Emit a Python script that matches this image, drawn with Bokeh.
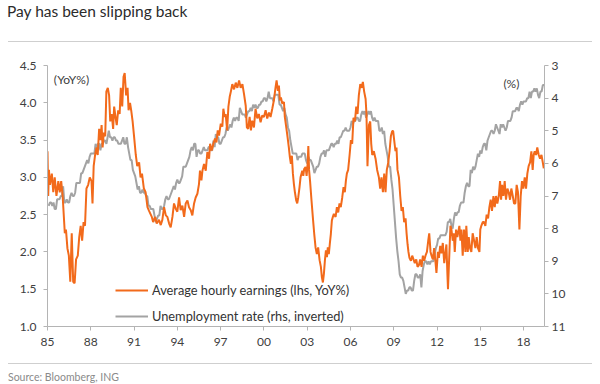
from bokeh.plotting import figure
from bokeh.models import (Range1d, LinearAxis, FixedTicker, Label, Legend,
                          LegendItem, Div)
from bokeh.layouts import column
from bokeh.embed import file_html
from bokeh.resources import INLINE

FONT = "Lato"
ORANGE = "#F26A1B"
GRAY = "#A3A3A3"
TEXT = "#404040"
AXIS = "#B4B4B4"

TITLE = "Pay has been slipping back"
SOURCE = "Source: Bloomberg, ING"
AHE_LABEL = "Average hourly earnings (lhs, YoY%)"
UR_LABEL = "Unemployment rate (rhs, inverted)"

# Average hourly earnings, YoY% (year, value)
ahe_1980s = [
    (1985.00, 3.35), (1985.05, 2.75), (1985.10, 3.10), (1985.17, 2.90), (1985.30, 3.05),
    (1985.40, 2.80), (1985.50, 3.00), (1985.62, 2.75), (1985.75, 2.95), (1985.85, 2.80),
    (1985.95, 2.95), (1986.05, 2.75), (1986.20, 2.25), (1986.28, 2.30), (1986.38, 2.05),
    (1986.48, 1.95), (1986.58, 1.60), (1986.68, 2.25), (1986.78, 1.60), (1986.88, 1.58),
    (1986.98, 1.90), (1987.10, 1.95), (1987.20, 2.20), (1987.30, 2.35), (1987.40, 2.15),
    (1987.50, 2.40), (1987.60, 2.35), (1987.70, 2.85), (1987.82, 2.90), (1987.93, 3.00),
    (1988.05, 2.95), (1988.12, 2.65), (1988.20, 3.15), (1988.30, 3.30), (1988.40, 3.40),
    (1988.48, 3.30), (1988.58, 3.65), (1988.67, 3.50), (1988.75, 3.70), (1988.82, 3.40),
    (1988.90, 3.60), (1989.00, 3.55), (1989.08, 4.15), (1989.18, 4.20), (1989.27, 4.10),
    (1989.35, 3.75), (1989.45, 3.85), (1989.55, 3.65), (1989.62, 3.95), (1989.72, 3.80),
    (1989.80, 3.70), (1989.90, 3.90),
]
ahe_1990s = [
    (1990.00, 3.85), (1990.08, 4.20), (1990.18, 3.95), (1990.27, 4.35), (1990.35, 4.40),
    (1990.45, 4.10), (1990.55, 4.20), (1990.62, 3.90), (1990.72, 4.00), (1990.80, 3.90),
    (1990.90, 3.75), (1991.00, 3.55), (1991.12, 3.30), (1991.22, 3.15), (1991.35, 3.20),
    (1991.45, 3.00), (1991.55, 3.05), (1991.68, 2.85), (1991.80, 2.80), (1991.93, 2.60),
    (1992.04, 2.55), (1992.23, 2.47), (1992.32, 2.40), (1992.46, 2.47), (1992.57, 2.38),
    (1992.73, 2.43), (1992.85, 2.36), (1992.96, 2.43), (1993.08, 2.60), (1993.20, 2.49),
    (1993.31, 2.47), (1993.43, 2.38), (1993.54, 2.33), (1993.66, 2.47), (1993.77, 2.65),
    (1993.89, 2.58), (1994.00, 2.54), (1994.12, 2.73), (1994.23, 2.56), (1994.35, 2.62),
    (1994.47, 2.47), (1994.58, 2.65), (1994.70, 2.69), (1994.81, 2.60), (1994.93, 2.56),
    (1995.04, 2.49), (1995.16, 2.65), (1995.27, 2.73), (1995.39, 2.78), (1995.50, 2.91),
    (1995.57, 3.09), (1995.67, 2.96), (1995.74, 3.09), (1995.85, 3.18), (1995.97, 3.09),
    (1996.08, 3.34), (1996.20, 3.25), (1996.27, 3.45), (1996.38, 3.36), (1996.50, 3.45),
    (1996.61, 3.52), (1996.71, 3.47), (1996.80, 3.63), (1996.89, 3.56), (1997.01, 3.72),
    (1997.12, 3.68), (1997.19, 3.92), (1997.28, 3.81), (1997.35, 3.85), (1997.45, 3.63),
    (1997.54, 3.95), (1997.63, 4.08), (1997.72, 4.16), (1997.81, 4.25), (1997.93, 4.18),
    (1998.05, 4.27), (1998.16, 4.20), (1998.28, 4.30), (1998.39, 4.20), (1998.51, 4.25),
    (1998.62, 4.12), (1998.74, 3.96), (1998.82, 3.67), (1998.91, 3.65), (1999.01, 3.81),
    (1999.10, 3.63), (1999.19, 3.76), (1999.31, 3.67), (1999.42, 3.92), (1999.54, 3.79),
    (1999.65, 3.85), (1999.77, 3.74), (1999.88, 3.83),
]
ahe_2000s = [
    (2000.00, 3.81), (2000.12, 3.90), (2000.23, 3.79), (2000.35, 3.87), (2000.46, 3.81),
    (2000.58, 3.92), (2000.69, 4.03), (2000.81, 4.21), (2000.88, 4.30), (2000.97, 4.16),
    (2001.04, 4.23), (2001.11, 4.03), (2001.18, 4.07), (2001.27, 3.99), (2001.39, 4.01),
    (2001.45, 3.81), (2001.55, 3.67), (2001.64, 3.54), (2001.73, 3.40), (2001.80, 3.27),
    (2001.87, 3.18), (2001.94, 3.29), (2002.01, 3.05), (2002.08, 2.91), (2002.15, 2.80),
    (2002.24, 2.69), (2002.31, 2.65), (2002.38, 2.73), (2002.47, 2.87), (2002.54, 3.00),
    (2002.66, 3.09), (2002.73, 3.02), (2002.79, 3.11), (2002.89, 3.14), (2002.96, 3.02),
    (2003.03, 3.18), (2003.08, 3.42), (2003.13, 3.10), (2003.20, 2.95), (2003.30, 2.69),
    (2003.39, 2.47), (2003.49, 2.24), (2003.58, 2.06), (2003.67, 1.97), (2003.76, 2.06),
    (2003.86, 1.89), (2003.95, 1.80), (2004.02, 1.66), (2004.09, 1.59), (2004.16, 1.71),
    (2004.23, 1.89), (2004.30, 2.02), (2004.37, 1.93), (2004.43, 2.06), (2004.50, 1.97),
    (2004.57, 2.11), (2004.64, 2.24), (2004.71, 2.42), (2004.78, 2.47), (2004.85, 2.51),
    (2004.97, 2.47), (2005.06, 2.60), (2005.15, 2.53), (2005.24, 2.65), (2005.33, 2.60),
    (2005.43, 2.73), (2005.52, 2.87), (2005.61, 2.80), (2005.68, 2.95), (2005.75, 3.05),
    (2005.84, 3.10), (2005.94, 3.30), (2006.03, 3.50), (2006.12, 3.45), (2006.21, 3.80),
    (2006.31, 3.75), (2006.40, 3.95), (2006.49, 3.85), (2006.58, 4.10), (2006.68, 4.25),
    (2006.77, 4.20), (2006.86, 4.28), (2006.95, 4.15), (2007.05, 4.05), (2007.11, 3.85),
    (2007.18, 3.15), (2007.28, 3.70), (2007.37, 3.75), (2007.44, 3.45), (2007.51, 3.30),
    (2007.62, 3.35), (2007.74, 3.25), (2007.85, 3.10), (2007.97, 3.00), (2008.06, 2.85),
    (2008.15, 3.00), (2008.25, 2.80), (2008.34, 3.05), (2008.43, 2.80), (2008.52, 3.10),
    (2008.62, 3.20), (2008.71, 3.35), (2008.80, 3.55), (2008.89, 3.62), (2008.96, 3.62),
    (2009.03, 3.50), (2009.12, 3.35), (2009.19, 3.40), (2009.26, 3.10), (2009.36, 3.00),
    (2009.45, 2.75), (2009.54, 2.55), (2009.63, 2.60), (2009.72, 2.40), (2009.82, 2.45),
    (2009.89, 2.25), (2009.96, 2.10),
]
ahe_2010s = [
    (2010.02, 2.00), (2010.09, 1.92), (2010.19, 1.88), (2010.28, 1.95), (2010.37, 1.90),
    (2010.46, 1.85), (2010.56, 1.90), (2010.65, 1.80), (2010.74, 1.82), (2010.83, 1.90),
    (2010.93, 1.80), (2011.02, 1.95), (2011.11, 1.88), (2011.20, 1.95), (2011.30, 2.00),
    (2011.39, 2.15), (2011.46, 2.25), (2011.55, 2.00), (2011.62, 1.95), (2011.71, 1.90),
    (2011.80, 2.05), (2011.90, 1.85), (2011.96, 1.72), (2012.06, 2.00), (2012.13, 1.92),
    (2012.22, 2.08), (2012.31, 1.98), (2012.40, 2.12), (2012.50, 1.85), (2012.58, 1.98),
    (2012.65, 2.10), (2012.72, 1.70), (2012.76, 1.50), (2012.86, 2.00), (2012.93, 2.35),
    (2013.00, 2.30), (2013.09, 2.15), (2013.16, 2.25), (2013.23, 2.00), (2013.32, 2.30),
    (2013.41, 2.20), (2013.55, 2.35), (2013.62, 2.15), (2013.69, 2.30), (2013.78, 1.95),
    (2013.87, 2.30), (2013.97, 2.00), (2014.03, 2.35), (2014.13, 2.00), (2014.20, 2.20),
    (2014.29, 2.05), (2014.38, 2.00), (2014.47, 2.25), (2014.57, 2.15), (2014.66, 2.05),
    (2014.75, 2.20), (2014.84, 2.05), (2014.94, 2.00), (2015.00, 2.30), (2015.07, 2.35),
    (2015.17, 2.40), (2015.26, 2.40), (2015.35, 2.35), (2015.44, 2.50), (2015.54, 2.45),
    (2015.63, 2.60), (2015.72, 2.70), (2015.81, 2.55), (2015.91, 2.75), (2016.00, 2.60),
    (2016.09, 2.75), (2016.18, 2.65), (2016.28, 2.75), (2016.37, 2.95), (2016.44, 2.70),
    (2016.51, 2.90), (2016.60, 2.75), (2016.69, 2.95), (2016.78, 2.70), (2016.88, 2.85),
    (2016.97, 2.80), (2017.06, 2.70), (2017.15, 2.85), (2017.25, 2.75), (2017.34, 2.65),
    (2017.43, 2.65), (2017.52, 2.90), (2017.61, 2.80), (2017.71, 2.30), (2017.80, 2.75),
    (2017.89, 2.95), (2017.98, 2.85), (2018.08, 3.00), (2018.17, 2.85), (2018.26, 3.05),
    (2018.35, 3.15), (2018.45, 3.20), (2018.54, 3.35), (2018.63, 3.10), (2018.70, 3.30),
    (2018.77, 3.35), (2018.86, 3.30), (2018.95, 3.40), (2019.05, 3.30), (2019.14, 3.25),
    (2019.24, 3.30), (2019.33, 3.20), (2019.40, 3.12),
]

# Unemployment rate (%), monthly from January 1985
ur_start_year = 1985
ur_1980s = [
    7.3, 7.2, 7.2, 7.3, 7.2, 7.4, 7.4, 7.1, 7.1, 7.1, 7.0, 7.0,
    6.7, 7.2, 7.2, 7.1, 7.2, 7.2, 7.0, 6.9, 7.0, 7.0, 6.9, 6.6,
    6.6, 6.6, 6.6, 6.3, 6.3, 6.2, 6.1, 6.0, 5.9, 6.0, 5.8, 5.7,
    5.7, 5.7, 5.7, 5.4, 5.6, 5.4, 5.4, 5.6, 5.4, 5.4, 5.3, 5.3,
    5.4, 5.2, 5.0, 5.2, 5.2, 5.3, 5.2, 5.2, 5.3, 5.3, 5.4, 5.4,
]
ur_1990s = [
    5.4, 5.3, 5.2, 5.4, 5.4, 5.2, 5.5, 5.7, 5.9, 5.9, 6.2, 6.3,
    6.4, 6.6, 6.8, 6.7, 6.9, 6.9, 6.8, 6.9, 6.9, 7.0, 7.0, 7.3,
    7.3, 7.4, 7.4, 7.4, 7.6, 7.8, 7.7, 7.6, 7.6, 7.3, 7.4, 7.4,
    7.3, 7.1, 7.0, 7.1, 7.1, 7.0, 6.9, 6.8, 6.7, 6.8, 6.6, 6.5,
    6.6, 6.6, 6.5, 6.4, 6.1, 6.1, 6.1, 6.0, 5.9, 5.8, 5.6, 5.5,
    5.6, 5.4, 5.4, 5.8, 5.6, 5.6, 5.7, 5.7, 5.6, 5.5, 5.6, 5.6,
    5.6, 5.5, 5.5, 5.6, 5.6, 5.3, 5.5, 5.1, 5.2, 5.2, 5.4, 5.4,
    5.3, 5.2, 5.2, 5.1, 4.9, 5.0, 4.9, 4.8, 4.9, 4.7, 4.6, 4.7,
    4.6, 4.6, 4.7, 4.3, 4.4, 4.5, 4.5, 4.5, 4.6, 4.5, 4.4, 4.4,
    4.3, 4.4, 4.2, 4.3, 4.2, 4.3, 4.3, 4.2, 4.2, 4.1, 4.1, 4.0,
]
ur_2000s = [
    4.0, 4.1, 4.0, 3.8, 4.0, 4.0, 4.0, 4.1, 3.9, 3.9, 3.9, 3.9,
    4.2, 4.2, 4.3, 4.4, 4.3, 4.5, 4.6, 4.9, 5.0, 5.3, 5.5, 5.7,
    5.7, 5.7, 5.7, 5.9, 5.8, 5.8, 5.8, 5.7, 5.7, 5.7, 5.9, 6.0,
    5.8, 5.9, 5.9, 6.0, 6.1, 6.3, 6.2, 6.1, 6.1, 6.0, 5.8, 5.7,
    5.7, 5.6, 5.8, 5.6, 5.6, 5.6, 5.5, 5.4, 5.4, 5.5, 5.4, 5.4,
    5.3, 5.4, 5.2, 5.2, 5.1, 5.0, 5.0, 4.9, 5.0, 5.0, 5.0, 4.9,
    4.7, 4.8, 4.7, 4.7, 4.6, 4.6, 4.7, 4.7, 4.5, 4.4, 4.5, 4.4,
    4.6, 4.5, 4.4, 4.5, 4.4, 4.6, 4.7, 4.6, 4.7, 4.7, 4.7, 5.0,
    5.0, 4.9, 5.1, 5.0, 5.4, 5.6, 5.8, 6.1, 6.1, 6.5, 6.8, 7.3,
    7.8, 8.3, 8.7, 9.0, 9.4, 9.5, 9.5, 9.6, 9.8, 10.0, 9.9, 9.9,
]
ur_2010s = [
    9.8, 9.8, 9.9, 9.9, 9.6, 9.4, 9.4, 9.5, 9.5, 9.4, 9.8, 9.3,
    9.1, 9.0, 9.0, 9.1, 9.0, 9.1, 9.0, 9.0, 9.0, 8.8, 8.6, 8.5,
    8.3, 8.3, 8.2, 8.2, 8.2, 8.2, 8.2, 8.1, 7.8, 7.8, 7.7, 7.9,
    8.0, 7.7, 7.5, 7.6, 7.5, 7.5, 7.3, 7.2, 7.2, 7.2, 6.9, 6.7,
    6.6, 6.7, 6.7, 6.2, 6.3, 6.1, 6.2, 6.1, 5.9, 5.7, 5.8, 5.6,
    5.7, 5.5, 5.4, 5.4, 5.6, 5.3, 5.2, 5.1, 5.0, 5.0, 5.1, 5.0,
    4.8, 4.9, 5.0, 5.1, 4.8, 4.9, 4.8, 4.9, 5.0, 4.9, 4.7, 4.7,
    4.7, 4.6, 4.4, 4.4, 4.4, 4.3, 4.3, 4.4, 4.2, 4.1, 4.2, 4.1,
    4.1, 4.1, 4.0, 4.0, 3.8, 4.0, 3.8, 3.8, 3.7, 3.8, 3.7, 3.9,
    4.0, 3.8, 3.8, 3.6, 3.6,
]

x_ticks = [1985, 1988, 1991, 1994, 1997, 2000, 2003, 2006, 2009, 2012, 2015, 2018]
x_tick_labels = ["85", "88", "91", "94", "97", "00", "03", "06", "09", "12", "15", "18"]
lhs_ticks = [1.0, 1.5, 2.0, 2.5, 3.0, 3.5, 4.0, 4.5]
rhs_ticks = [3, 4, 5, 6, 7, 8, 9, 10, 11]

ahe_points = ahe_1980s + ahe_1990s + ahe_2000s + ahe_2010s
ahe_year = [pt[0] for pt in ahe_points]
ahe_value = [pt[1] for pt in ahe_points]
ur_value = ur_1980s + ur_1990s + ur_2000s + ur_2010s
ur_year = [ur_start_year + (i + 1) / 12 for i in range(len(ur_value))]

p = figure(width=592, height=320,
           x_range=Range1d(1985, 2019.45), y_range=Range1d(1.0, 4.5),
           output_backend="svg", toolbar_location=None,
           min_border_left=47, min_border_right=48,
           min_border_top=23, min_border_bottom=36)
p.extra_y_ranges = {"ur": Range1d(11, 3)}
p.outline_line_color = None
p.xgrid.visible = False
p.ygrid.visible = False
p.background_fill_color = "white"
p.border_fill_color = "white"

gray = p.line(ur_year, ur_value, y_range_name="ur", line_color=GRAY, line_width=2)
orange = p.line(ahe_year, ahe_value, line_color=ORANGE, line_width=2)

right_axis = LinearAxis(y_range_name="ur", ticker=FixedTicker(ticks=rhs_ticks))
p.add_layout(right_axis, "right")

p.xaxis.ticker = FixedTicker(ticks=x_ticks)
p.xaxis.major_label_overrides = {t: l for t, l in zip(x_ticks, x_tick_labels)}
p.yaxis[0].ticker = FixedTicker(ticks=lhs_ticks)
p.yaxis[0].major_label_overrides = {t: f"{t:.1f}" for t in lhs_ticks}

for ax in [p.xaxis[0], p.yaxis[0], right_axis]:
    ax.axis_line_color = AXIS
    ax.axis_line_width = 1
    ax.major_tick_line_color = AXIS
    ax.major_tick_out = 4
    ax.major_tick_in = 0
    ax.minor_tick_line_color = None
    ax.major_label_text_font = FONT
    ax.major_label_text_font_size = "12px"
    ax.major_label_text_color = TEXT
p.xaxis[0].major_label_standoff = 7
p.yaxis[0].major_label_standoff = 7
right_axis.major_label_standoff = 3

p.add_layout(Label(x=1985.44, y=4.31, text="(YoY%)", text_font=FONT,
                   text_font_size="12px", text_color=TEXT,
                   text_baseline="middle", text_align="left"))
p.add_layout(Label(x=2016.6, y=4.26, text="(%)", text_font=FONT,
                   text_font_size="12px", text_color=TEXT,
                   text_baseline="middle", text_align="left"))

legend = Legend(items=[LegendItem(label=AHE_LABEL, renderers=[orange]),
                       LegendItem(label=UR_LABEL, renderers=[gray])],
                location=(68, 0), margin=0, padding=0, spacing=6,
                glyph_width=33, glyph_height=20, label_height=20,
                label_standoff=4, label_text_font=FONT,
                label_text_font_size="12.8px", label_text_color="#333333",
                background_fill_alpha=0, border_line_color=None)
p.add_layout(legend)

top = Div(text=(f'<div style="font-family:{FONT};font-size:15.5px;color:#2b2b2b;'
                'line-height:18px;margin:2px 0 0 7px;white-space:nowrap;">'
                f'{TITLE}</div>'
                '<div style="margin:21px 0 0 8px;width:584px;height:0;'
                'border-top:1px solid #cfcfcf;"></div>'),
          width=600, height=42, margin=0)
bottom = Div(text=('<div style="margin:1px 0 0 8px;width:584px;height:0;'
                   'border-top:1px solid #cfcfcf;"></div>'
                   f'<div style="font-family:{FONT};font-size:10.5px;color:#8a8a8a;'
                   f'line-height:12px;margin:7px 0 0 8px;white-space:nowrap;">{SOURCE}</div>'),
             width=600, height=22, margin=0)

layout = column(top, p, bottom, spacing=0)
open("out.html", "w").write(file_html(layout, INLINE))
